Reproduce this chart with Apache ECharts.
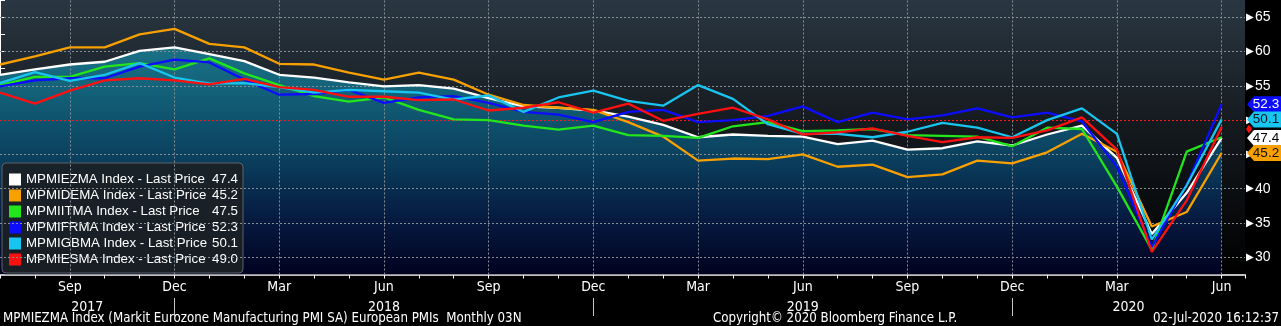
<!DOCTYPE html>
<html><head><meta charset="utf-8">
<script src="https://cdn.jsdelivr.net/npm/echarts@6/dist/echarts.min.js"></script>
<style>html,body{margin:0;padding:0;background:#000;}#c{width:1281px;height:326px;}</style>
</head><body><div id="c"></div>
<script>
// ---------- DATA ----------
const months = ['Jul 2017','Aug 2017','Sep 2017','Oct 2017','Nov 2017','Dec 2017',
  'Jan 2018','Feb 2018','Mar 2018','Apr 2018','May 2018','Jun 2018','Jul 2018','Aug 2018','Sep 2018','Oct 2018','Nov 2018','Dec 2018',
  'Jan 2019','Feb 2019','Mar 2019','Apr 2019','May 2019','Jun 2019','Jul 2019','Aug 2019','Sep 2019','Oct 2019','Nov 2019','Dec 2019',
  'Jan 2020','Feb 2020','Mar 2020','Apr 2020','May 2020','Jun 2020'];
const seriesNames = ['MPMIEZMA','MPMIDEMA','MPMIITMA','MPMIFRMA','MPMIGBMA','MPMIESMA'];
const ezValues = [56.6,57.4,58.1,58.5,60.1,60.6, 59.6,58.6,56.6,56.2,55.5,54.9,55.1,54.6,53.2,52.0,51.8,51.4,
  50.5,49.3,47.5,47.9,47.7,47.6,46.5,47.0,45.7,45.9,46.9,46.3, 47.9,49.2,44.5,33.4,39.4,47.4];
const deValues = [58.1,59.3,60.6,60.6,62.5,63.3, 61.1,60.6,58.2,58.1,56.9,55.9,56.9,55.9,53.7,52.2,51.8,51.5,
  49.7,47.6,44.1,44.4,44.3,45.0,43.2,43.5,41.7,42.1,44.1,43.7, 45.3,48.0,45.4,34.5,36.6,45.2];
const itValues = [55.1,56.3,56.3,57.8,58.3,57.4, 59.0,56.8,55.1,53.5,52.7,53.3,51.5,50.1,50.0,49.2,48.6,49.2,
  47.8,47.7,47.4,49.1,49.7,48.4,48.5,48.7,47.8,47.7,47.6,46.2, 48.9,48.7,40.3,31.1,45.4,47.5];
const frValues = [54.9,55.8,56.1,56.1,57.8,58.8, 58.4,55.9,53.7,53.8,54.4,52.5,53.3,53.5,52.5,51.2,50.8,49.7,
  51.2,51.5,49.7,50.0,50.6,52.0,49.7,51.1,50.1,50.7,51.7,50.4, 51.1,49.8,43.2,31.5,40.6,52.3];
const gbValues = [55.4,57.0,55.7,56.6,58.3,56.2, 55.3,55.4,54.8,54.0,54.4,54.2,54.0,53.0,53.6,51.2,53.3,54.3,
  52.8,52.1,55.1,53.1,49.4,48.0,48.0,47.5,48.3,49.6,48.9,47.5, 50.0,51.7,48.0,32.6,40.5,50.1];
const esValues = [54.0,52.4,54.3,55.8,56.1,55.8, 55.2,56.0,54.8,54.4,53.4,53.4,52.9,53.0,51.4,51.8,52.6,51.1,
  52.4,49.9,50.9,51.8,50.1,47.9,48.2,48.8,47.7,46.8,47.5,47.4, 48.5,50.4,45.7,30.8,38.3,49.0];
const yTicks = [30,35,40,45,50,55,60,65];
const refLevel = 50;
const footerLeft = 'MPMIEZMA Index (Markit Eurozone Manufacturing PMI SA) European PMIs  Monthly 03N';
const footerMid = 'Copyright\u00A9 2020 Bloomberg Finance L.P.';
const footerRight = '02-Jul-2020 16:12:37';

// ---------- STYLE / LAYOUT ----------
const colors = ['#ffffff','#f7a000','#22e51c','#0c0cff','#18c5ef','#ff1010'];
const valueBoxText = ['#000000','#111111',null,'#ffffff','#0a1620',null];
const X_MAX = 35.67;
const NARROW = "'Liberation Sans Narrow','Arial Narrow','DejaVu Sans Condensed',sans-serif";
const SANS = "'Liberation Sans',Arial,sans-serif";

const allValues = [ezValues,deValues,itValues,frValues,gbValues,esValues];
const toPts = arr => arr.map((v,i)=>[i,v]);
const quarterIdx = months.map((m,i)=>i).filter(i=>['Mar','Jun','Sep','Dec'].includes(months[i].slice(0,3)));
const decIdx = months.map((m,i)=>i).filter(i=>months[i].startsWith('Dec'));
const bounds = [0, ...decIdx, X_MAX];
const yearCenters = [], yearNames = [];
for (let k=0;k<bounds.length-1;k++){
  yearCenters.push((bounds[k]+bounds[k+1])/2);
  yearNames.push(months[Math.min(months.length-1, Math.floor(bounds[k])+1)].slice(4));
}

const chart = echarts.init(document.getElementById('c'), null, {renderer:'canvas'});

const lineSeries = seriesNames.map((n,k)=>{
  const last = allValues[k][allValues[k].length-1];
  let mp;
  if (valueBoxText[k]) {
    mp = {
      silent:true, animation:false,
      symbol:'path://M0,8L7,0L44,0L44,16L7,16Z', symbolSize:[44,16], symbolKeepAspect:false,
      symbolOffset:[24,0],
      itemStyle:{color:colors[k]},
      label:{show:true, position:'inside', formatter: last.toFixed(1), color:valueBoxText[k],
        fontSize:13.5, fontFamily:SANS, offset:[-3,0]},
      data:[{coord:[X_MAX, last]}]
    };
  } else if (k===5) {
    mp = {silent:true, animation:false, symbol:'diamond', symbolSize:[6,9], symbolOffset:[4,2],
      itemStyle:{color:colors[k]}, label:{show:false}, data:[{coord:[X_MAX,last]}]};
  }
  return {
    name:n, type:'line', data:toPts(allValues[k]), showSymbol:false, symbol:'none',
    z:5, lineStyle:{color:colors[k], width:2.3}, itemStyle:{color:colors[k]},
    markPoint: mp
  };
});

const option = {
  animation:false,
  backgroundColor:'#000000',
  grid:{left:0, right:36, top:-7.1, bottom:51.5, show:true, borderWidth:0,
    backgroundColor: new echarts.graphic.LinearGradient(0,0,0,1,[
      {offset:0,color:'#2a3742'},{offset:0.45,color:'#151a1f'},{offset:1,color:'#000000'}])},
  legend:{
    data:seriesNames, orient:'vertical', left:2, top:163,
    padding:[10,5,7,7], itemGap:3, itemWidth:12, itemHeight:12, icon:'rect',
    backgroundColor:'rgba(27,32,37,0.93)', borderColor:'#5c636b', borderWidth:1, borderRadius:4,
    selectedMode:false,
    formatter: name => {
      const k = seriesNames.indexOf(name);
      const v = allValues[k][allValues[k].length-1];
      return '{n|'+name+' Index - Last Price}{v|'+v.toFixed(1)+'}';
    },
    textStyle:{color:'#ffffff', fontFamily:SANS, fontSize:13.3, lineHeight:12,
      rich:{n:{width:184, color:'#ffffff', fontFamily:SANS, fontSize:13.3, lineHeight:12},
            v:{width:28, align:'right', color:'#ffffff', fontFamily:SANS, fontSize:13.3, lineHeight:12}}}
  },
  xAxis:[{
    type:'value', min:0, max:X_MAX, interval:1,
    axisLine:{show:true, onZero:false, lineStyle:{color:'#ffffff', width:1.5}},
    axisTick:{show:true, length:4, lineStyle:{color:'#ffffff'}},
    axisLabel:{customValues:quarterIdx, formatter:v=>months[Math.round(v)].slice(0,3),
      color:'#ffffff', fontSize:14, fontFamily:NARROW, margin:6},
    splitLine:{show:false}
  },{
    type:'value', min:0, max:X_MAX, position:'bottom', offset:23.5,
    axisLine:{show:false},
    axisTick:{show:true, customValues:decIdx, length:18, lineStyle:{color:'#c8c8c8'}},
    axisLabel:{customValues:yearCenters, formatter:v=>{
        const k = yearCenters.findIndex(c=>Math.abs(c-v)<0.01); return k>=0?yearNames[k]:''; },
      color:'#ffffff', fontSize:14, fontFamily:NARROW, margin:2},
    splitLine:{show:false}
  }],
  yAxis:{
    type:'value', position:'right', min:27.5, max:67.5, interval:2.5,
    axisLine:{show:true, lineStyle:{color:'#ffffff', width:1}},
    axisTick:{show:true, length:5, lineStyle:{color:'#ffffff'}},
    axisLabel:{formatter:v=> (v%5===0 && v>=30 && v<=65) ? '{t|\u25B6}'+v : '',
      color:'#ffffff', fontSize:14, fontFamily:SANS, margin:1,
      rich:{t:{fontSize:10, color:'#ffffff', padding:[0,1,0,0]}}},
    splitLine:{show:false}
  },
  graphic:[
    {type:'text', left:3, top:312, silent:true,
      style:{text:footerLeft, fill:'#ffffff', fontSize:13.2, fontFamily:NARROW}},
    {type:'text', left:713, top:312, silent:true,
      style:{text:footerMid, fill:'#ffffff', fontSize:13.2, fontFamily:NARROW}},
    {type:'text', right:2, top:312, silent:true,
      style:{text:footerRight, fill:'#ffffff', fontSize:13.2, fontFamily:NARROW}}
  ],
  series:[
    {type:'line', data:toPts(ezValues), symbol:'none', silent:true, z:1,
      lineStyle:{width:0, opacity:0},
      areaStyle:{opacity:1, color:new echarts.graphic.LinearGradient(0,35,0,275,[
        {offset:0,color:'#1c7688'},{offset:0.23,color:'#13627a'},{offset:0.48,color:'#0b4461'},
        {offset:0.77,color:'#061a40'},{offset:1,color:'#01021f'}], true)}},
    {type:'line', data:toPts(ezValues), symbol:'none', silent:true, z:2,
      lineStyle:{width:0, opacity:0},
      markLine:{silent:true, symbol:['none','none'], animation:false, label:{show:false},
        lineStyle:{color:'#868d95', type:[2,2], width:1},
        data:[...yTicks.filter(v=>v!==refLevel).map(v=>({yAxis:v})),
              ...quarterIdx.map(i=>({xAxis:i})),
              {yAxis:refLevel, lineStyle:{color:'#ff1a1a', type:[2,2], width:1}}]}},
    ...lineSeries
  ]
};
chart.setOption(option);
</script></body></html>
